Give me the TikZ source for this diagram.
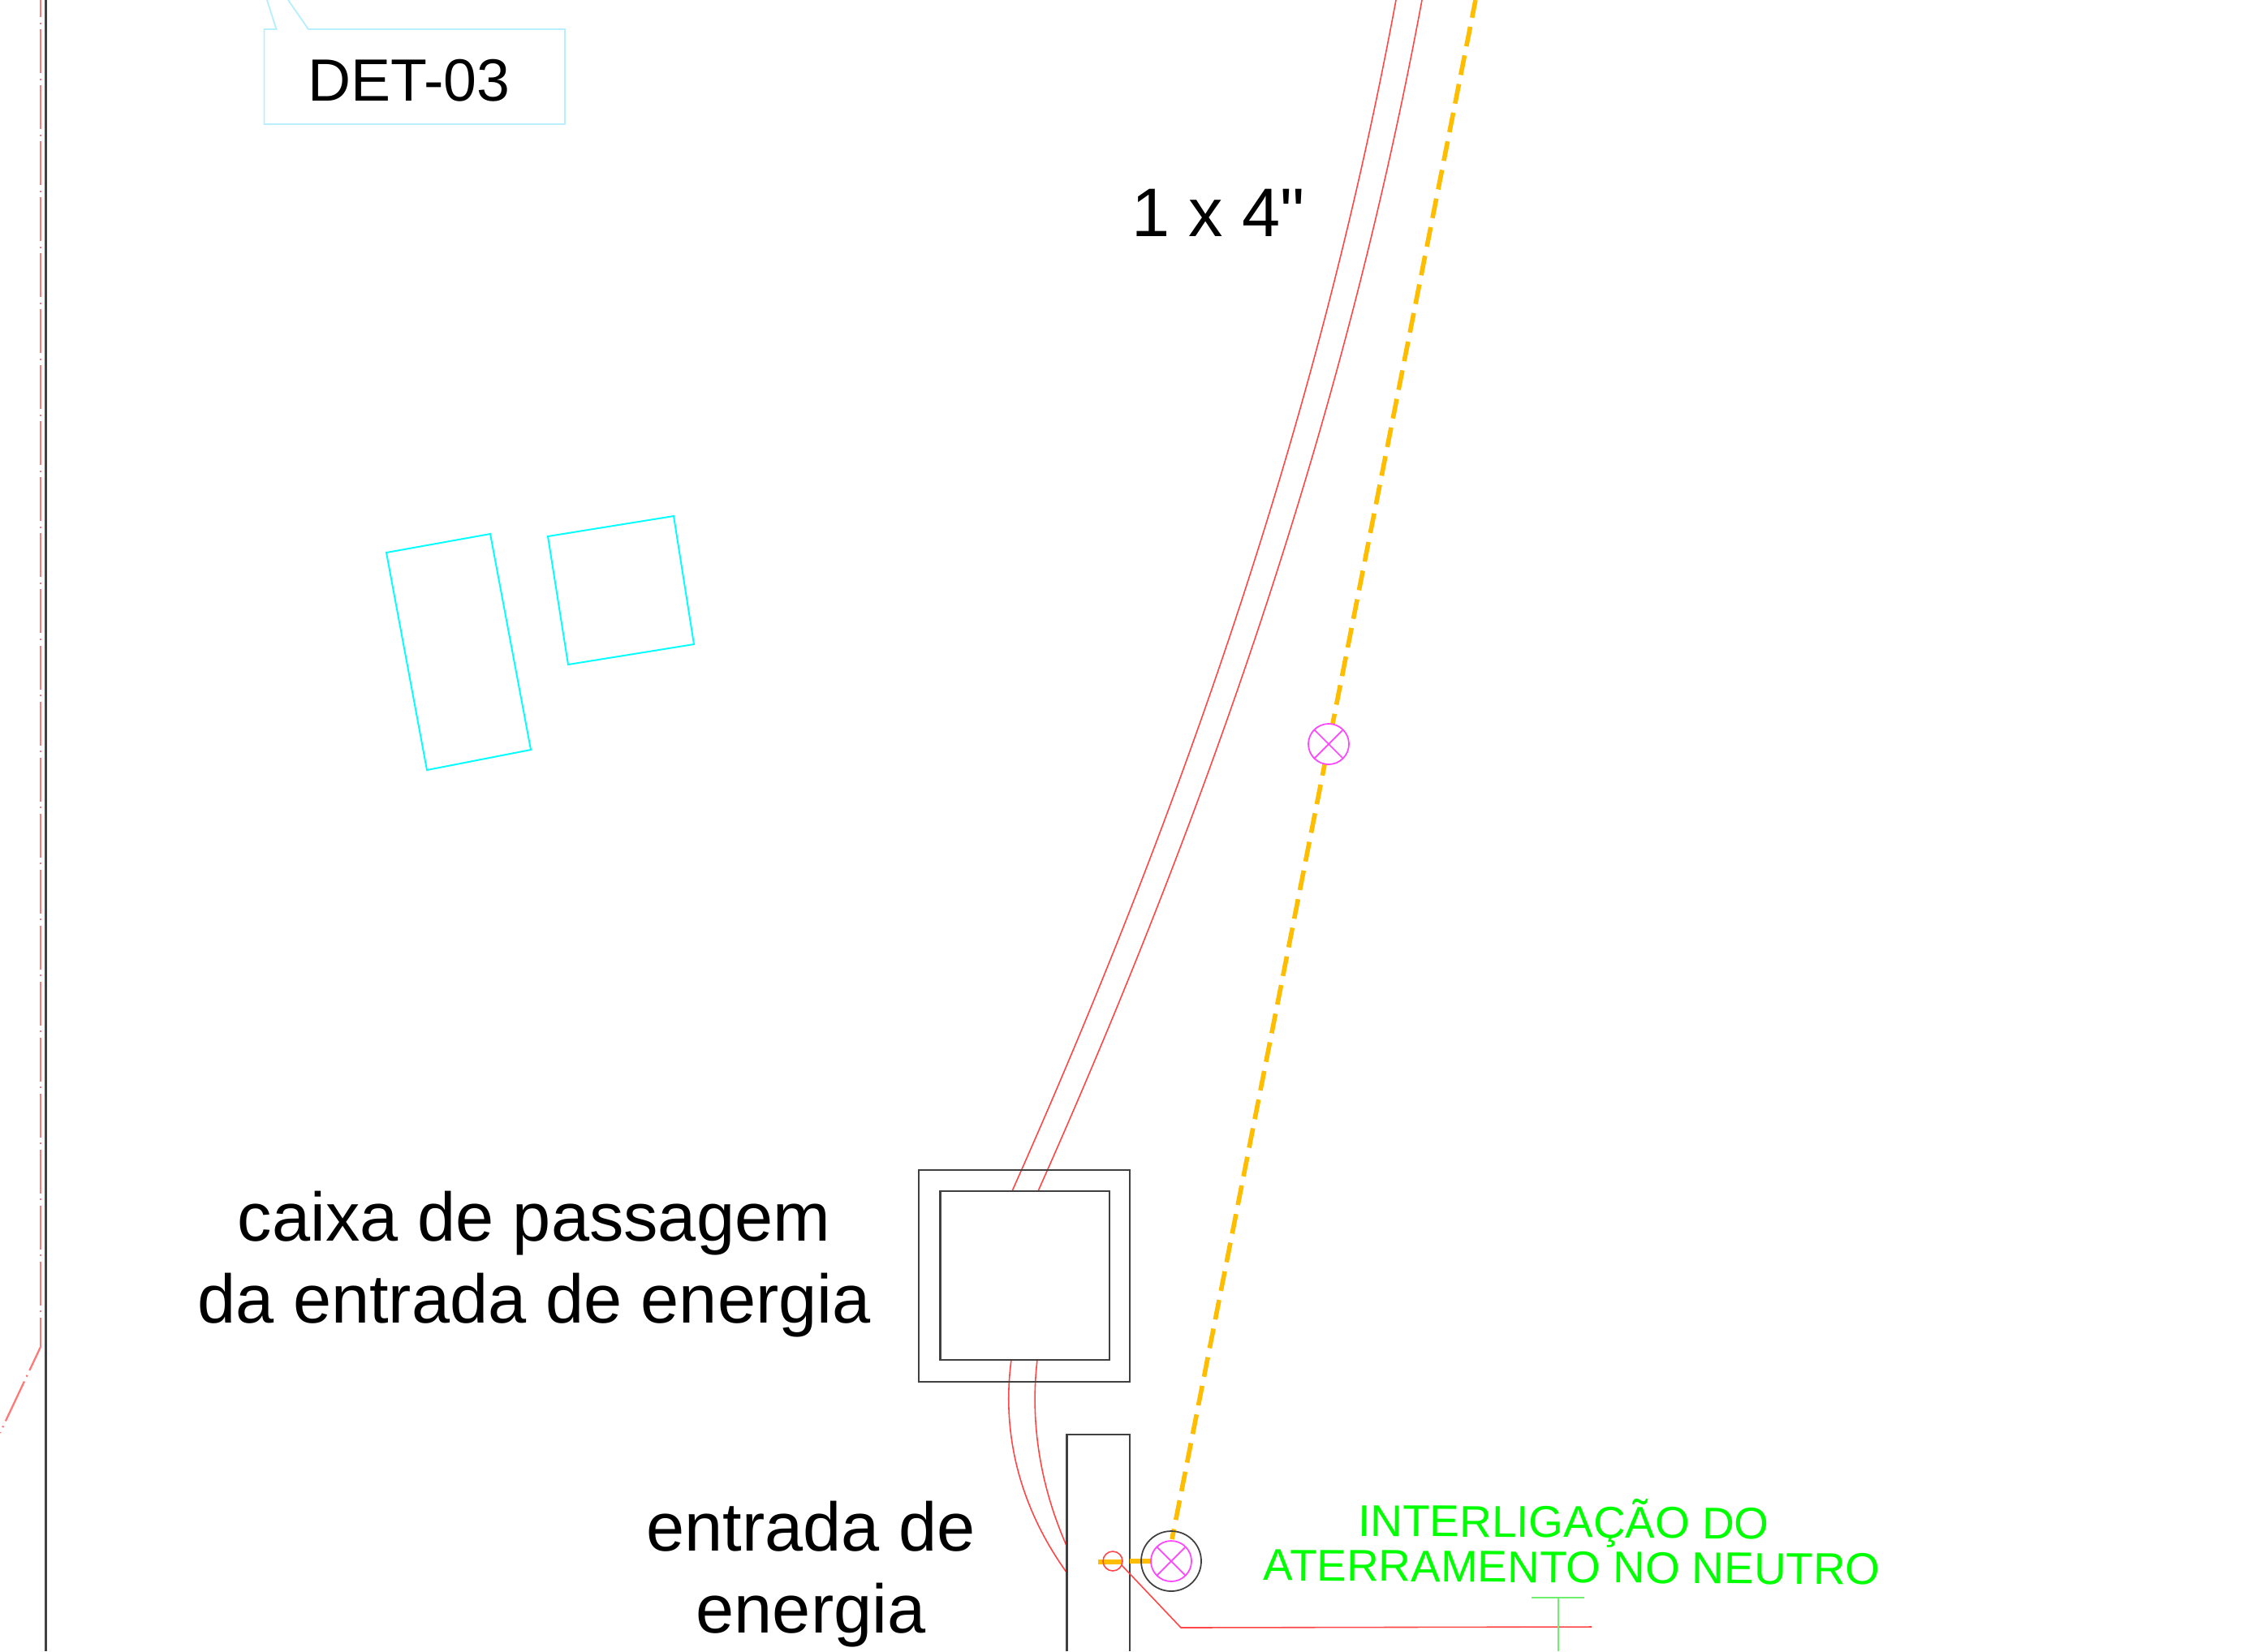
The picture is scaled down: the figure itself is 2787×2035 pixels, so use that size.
\documentclass[tikz,border=0pt]{standalone}
\usepackage{fontspec}
\setmainfont[Ligatures=TeXOff]{Liberation Sans}
\begin{document}
\begin{tikzpicture}[x=0.01cm,y=-0.01cm,
  wall/.style={draw=black!75,line width=0.6pt},
  pipe/.style={draw={rgb,255:red,255;green,70;blue,70},line width=0.45pt},
  axis/.style={draw={rgb,255:red,255;green,120;blue,120},line width=0.65pt,dash pattern=on 0.54cm off 0.065cm on 0.02cm off 0.065cm},
  ground/.style={draw={rgb,255:red,255;green,189;blue,0},line width=1.6pt},
  gdash/.style={ground,dash pattern=on 0.245cm off 0.1144cm},
  build/.style={draw={rgb,255:red,0;green,255;blue,255},line width=0.55pt},
  tagbox/.style={draw={rgb,255:red,185;green,238;blue,255},line width=0.55pt},
  bubble/.style={draw={rgb,255:red,255;green,70;blue,255},line width=0.5pt,fill=white},
  note/.style={font=\fontsize{24.1}{28.9}\selectfont,align=center,inner sep=0pt},
  greenlab/.style={text={rgb,255:red,0;green,255;blue,0},font=\fontsize{15.6}{15.8}\selectfont,align=center,inner sep=0pt}]
\path[use as bounding box] (0,0) rectangle (2787,2035);
% boundary lines
\draw[wall] (56.5,0) -- (56.5,2035);
\draw[axis] (50,-33) -- (50,1660);
\draw[axis,dash phase=0.22cm] (50,1660) -- (0,1766);
% tag
\draw[tagbox] (329,0) -- (340.5,36) -- (325.5,36) -- (325.5,153) -- (696,153) -- (696,36) -- (380,36) -- (355,0);
\node[inner sep=0pt,font=\fontsize{20.9}{24}\selectfont] (det) at (504,99) {DET-03};
% buildings
\draw[build] (476,681) -- (604,658) -- (654,924) -- (526,949) -- cycle;
\draw[build] (675,661) -- (830,636) -- (855,794) -- (700,819) -- cycle;
% pipes
\draw[pipe] (1720,0) .. controls (1640,430) and (1500,900) .. (1247,1468);
\draw[pipe] (1752,0) .. controls (1672,430) and (1532,900) .. (1279,1468);
\draw[pipe] (1246,1676) .. controls (1232,1780) and (1265,1870) .. (1315,1939);
\draw[pipe] (1278,1676) .. controls (1268,1760) and (1285,1840) .. (1315,1907);
% boxes
\draw[wall] (1132,1442) rectangle (1392,1703);
\draw[wall] (1158.5,1468) rectangle (1367,1676);
\draw[wall] (1314.5,2035) -- (1314.5,1768) -- (1392,1768) -- (1392,2035);
% grounding
\coordinate (g0) at (1818,0);
\coordinate (gm) at (1637,917);
\coordinate (g1) at (1444,1897);
\draw[gdash,dash phase=0.023cm] (g0) -- (gm);
\draw[gdash,dash phase=0.209cm] (gm) -- (g1);
\draw[ground] (1353,1925) -- (1382,1925);
\draw[ground] (1392,1924) -- (1418,1924);
% neutral
\draw[pipe] (1371,1924) circle (12);
\draw[pipe] (1382,1929) -- (1455,2006) -- (1961,2005);
% black circle & bubbles
\draw[draw=black!75,line width=0.5pt] (1443,1924) circle (37);
\foreach \cx/\cy in {1443/1924,1637/917}{
  \draw[bubble] (\cx,\cy) circle (25);
  \draw[bubble] (\cx-17.7,\cy-17.7) -- (\cx+17.7,\cy+17.7);
  \draw[bubble] (\cx-17.7,\cy+17.7) -- (\cx+17.7,\cy-17.7);
}
% green mark
\draw[draw={rgb,255:red,110;green,240;blue,110},line width=0.5pt] (1887,1969) -- (1952,1969);
\draw[draw={rgb,255:red,110;green,240;blue,110},line width=0.5pt] (1920,1969) -- (1920,2035);
% labels
\node[note] (diam) at (1501,262) {1 x 4"};
\node[note] (cx) at (658,1558) {caixa de passagem\\da entrada de energia};
\node[note] (ent) at (999,1940) {entrada de\\energia};
\node[greenlab,rotate=-0.4] (lig) at (1937,1899) {INTERLIGAÇÃO DO\hspace*{6pt}\\ATERRAMENTO NO NEUTRO};
\end{tikzpicture}
\end{document}
